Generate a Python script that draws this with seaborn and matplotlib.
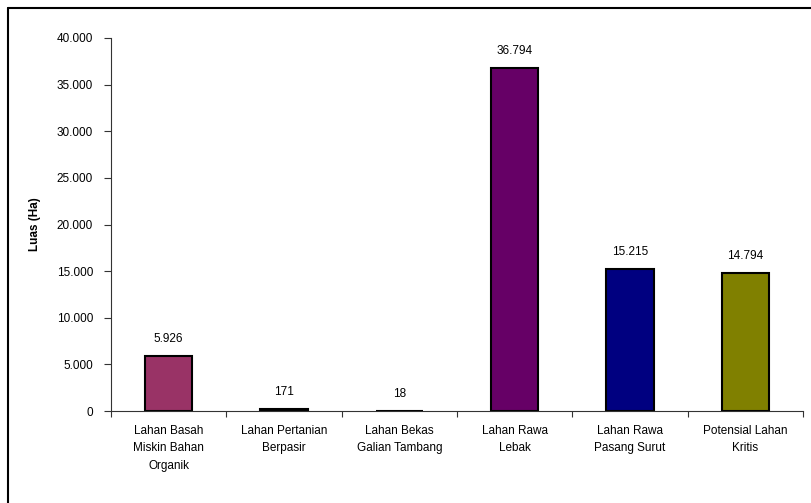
import matplotlib
matplotlib.use("Agg")
import matplotlib.pyplot as plt
import seaborn as sns
import pandas as pd
from matplotlib.lines import Line2D
from matplotlib.ticker import FixedLocator, FuncFormatter

categories = ["Lahan Basah\nMiskin Bahan\nOrganik", "Lahan Pertanian\nBerpasir",
              "Lahan Bekas\nGalian Tambang", "Lahan Rawa\nLebak",
              "Lahan Rawa\nPasang Surut", "Potensial Lahan\nKritis"]
values = [5926, 171, 18, 36794, 15215, 14794]
value_labels = ["5.926", "171", "18", "36.794", "15.215", "14.794"]
colors = ["#993366", "#FFFFCC", "#CCFFFF", "#660066", "#000080", "#808000"]
yticks = [0, 5000, 10000, 15000, 20000, 25000, 30000, 35000, 40000]

sns.set_theme(style="white")
plt.rcParams['font.family'] = ['Liberation Sans', 'DejaVu Sans']
plt.rcParams['text.color'] = 'black'
plt.rcParams['xtick.color'] = 'black'
plt.rcParams['ytick.color'] = 'black'
plt.rcParams['axes.labelcolor'] = 'black'

df = pd.DataFrame({"cat": categories, "val": values})

fig = plt.figure(figsize=(8.11, 5.03), dpi=100)
ax = fig.add_axes([111/811, 1-411/503, (803-111)/811, (411-38)/503])
sns.barplot(data=df, x="cat", y="val", hue="cat", palette=colors, legend=False,
            width=0.41, edgecolor="black", linewidth=1.5, saturation=1, ax=ax)

ax.set_ylim(0, 40000)
ax.set_xlim(-0.5, 5.5)
ax.yaxis.set_major_locator(FixedLocator(yticks))
ax.yaxis.set_major_formatter(FuncFormatter(lambda v, p: f"{int(v):,}".replace(",", ".")))
ax.tick_params(axis="y", left=True, direction="out", length=5, width=0.8, color="#333333",
               labelsize=8.5, pad=8, labelcolor="black")
ax.set_xticks(range(len(categories)))
ax.set_xticklabels(categories, fontsize=8.5, linespacing=1.6, color="black")
ax.tick_params(axis="x", bottom=False, length=0, pad=10)
ax.set_xticks([i - 0.5 for i in range(len(categories) + 1)], minor=True)
ax.tick_params(axis="x", which="minor", bottom=True, direction="out", length=4, width=0.8,
               color="#333333")

for s in ["top", "right"]:
    ax.spines[s].set_visible(False)
for s in ["left", "bottom"]:
    ax.spines[s].set_visible(True)
    ax.spines[s].set_color("#333333")
    ax.spines[s].set_linewidth(0.8)

ax.set_xlabel("")
ax.set_ylabel("Luas (Ha)", fontsize=8.5, fontweight="bold", labelpad=11, color="black")

for i, (v, lab) in enumerate(zip(values, value_labels)):
    ax.annotate(lab, (i, v), xytext=(0, 8), textcoords="offset points",
                ha="center", va="bottom", fontsize=8.5, color="black")

fig.add_artist(Line2D([8/811, 1.0], [1-8/503, 1-8/503], color="black", lw=1.5,
                      transform=fig.transFigure))
fig.add_artist(Line2D([8/811, 8/811], [0.0, 1-8/503], color="black", lw=1.5,
                      transform=fig.transFigure))

fig.savefig("out.png", dpi=100, facecolor="white")
